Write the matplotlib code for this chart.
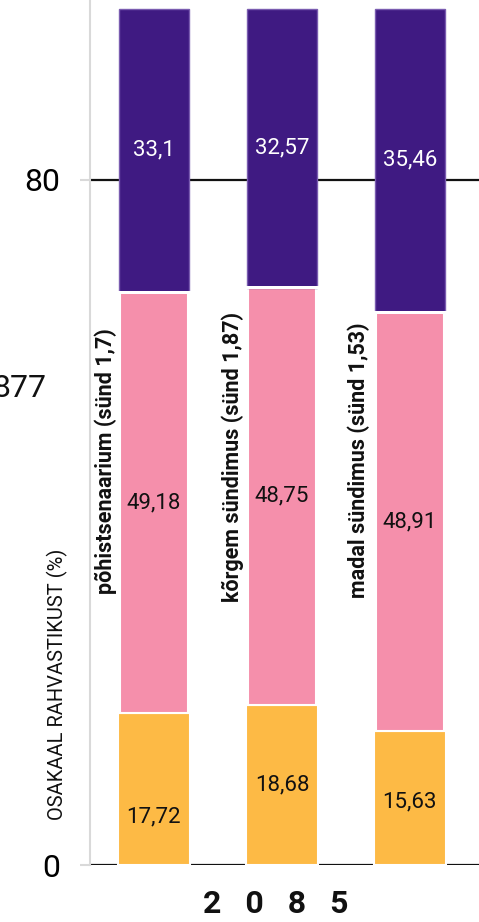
import matplotlib
matplotlib.use("Agg")
import matplotlib.pyplot as plt

plt.rcParams['font.family'] = ['Roboto', 'DejaVu Sans']

# ---- data ----
scenarios = ["põhistsenaarium (sünd 1,7)", "kõrgem sündimus (sünd 1,87)", "madal sündimus (sünd 1,53)"]
young = [17.72, 18.68, 15.63]      # orange
working = [49.18, 48.75, 48.91]    # pink
old = [33.1, 32.57, 35.46]         # purple
young_labels = ["17,72", "18,68", "15,63"]
working_labels = ["49,18", "48,75", "48,91"]
old_labels = ["33,1", "32,57", "35,46"]
year = "2085"
y_title = "OSAKAAL RAHVASTIKUST (%)"
ytick_vals = [0, 80]

C_ORANGE = "#FDBA45"
C_PINK = "#F58FAB"
C_PURPLE = "#3F1A82"

W, H = 479, 922
fig = plt.figure(figsize=(W / 100, H / 100), dpi=100)
ax = fig.add_axes([90 / W, (H - 865) / H, 1 - 90 / W, 865 / H])

x = list(range(len(scenarios)))
bw = 0.547
ax.bar(x, young, width=bw + 0.02, color=C_ORANGE, edgecolor="white", linewidth=1.5, zorder=3)
ax.bar(x, working, bottom=young, width=bw - 0.01, color=C_PINK, edgecolor="white", linewidth=1.5, zorder=3)
bot2 = [a + b for a, b in zip(young, working)]
ax.bar(x, old, bottom=bot2, width=bw, color=C_PURPLE, edgecolor="#7a5cb0", linewidth=1.0, zorder=3)
# white gap between pink and purple
ax.bar(x, [0.35] * 3, bottom=[b - 0.175 for b in bot2], width=bw + 0.03, color="white", linewidth=0, zorder=4)

ax.set_xlim(-0.5, 2.54)
ax.set_ylim(0, 101)

# horizontal reference lines
for v in ytick_vals:
    ax.axhline(v, color="#111111", linewidth=1.6, zorder=1)

ax.set_yticks(ytick_vals)
ax.set_yticklabels([str(v) for v in ytick_vals], fontsize=23)
ax.tick_params(axis="y", length=7.2, width=1.5, color="#d9d9d9", pad=14)
ax.set_xticks([])
for s in ["top", "right", "bottom"]:
    ax.spines[s].set_visible(False)
ax.spines["left"].set_color("#d9d9d9")
ax.spines["left"].set_linewidth(1.5)

# value labels
young_off = [-3.2, 0.0, -0.4]
for i in x:
    ax.text(i, young[i] / 2 + young_off[i], young_labels[i], ha="center", va="center", fontsize=16, color="#111111", zorder=5)
    ax.text(i, young[i] + working[i] / 2, working_labels[i], ha="center", va="center", fontsize=16, color="#111111", zorder=5)
    ax.text(i, bot2[i] + old[i] / 2, old_labels[i], ha="center", va="center", fontsize=16,
            color="white", zorder=5)

# scenario labels (rotated, left of each bar)
scen_y = [47.1, 47.6, 47.3]
scen_dx = [-0.375, -0.383, -0.40]
for i in x:
    ax.text(i + scen_dx[i], scen_y[i], scenarios[i], rotation=90, ha="center", va="center",
            fontsize=15.5, fontweight="bold", color="#111111", zorder=5)

# y title
fig.text(57 / W, 1 - 684 / H, y_title, rotation=90, ha="center", va="center", fontsize=14.5, color="#111111")

# stray clipped label (cut at the left edge, as in the reference)
fig.text(-8 / W, 1 - 388 / H, "877", ha="left", va="center", fontsize=23, color="#111111")

# year label
fig.text(276 / W, 1 - 904 / H, "   ".join(year), ha="center", va="center", fontsize=23, fontweight="bold", color="#111111")

fig.savefig("out.png", dpi=100)
